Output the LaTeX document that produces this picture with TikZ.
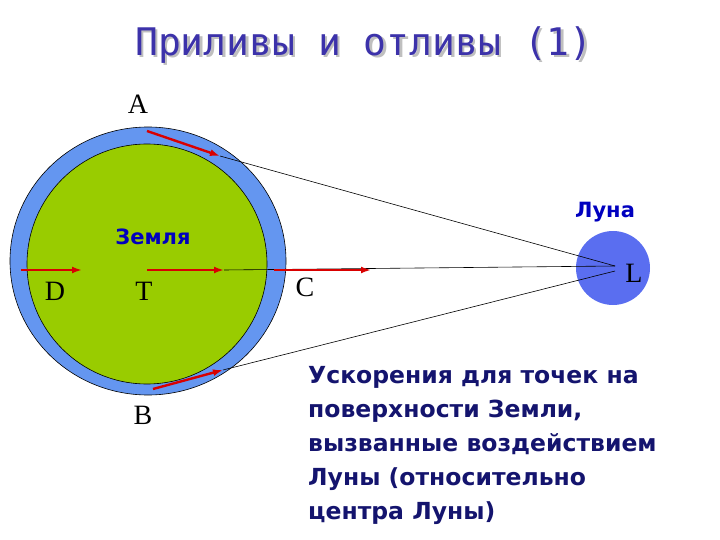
\documentclass[tikz,border=0pt]{standalone}
\usepackage{fontspec}
\setmainfont{Liberation Serif}
\newfontfamily\djsans{DejaVu Sans}
\newfontfamily\djmono{DejaVu Sans Mono}
\usetikzlibrary{arrows.meta}
\definecolor{ring}{RGB}{100,150,240}
\definecolor{earth}{RGB}{153,204,0}
\definecolor{moon}{RGB}{90,110,240}
\definecolor{navy}{RGB}{20,20,110}
\definecolor{ttl}{RGB}{60,50,170}
\begin{document}
\begin{tikzpicture}[x=1pt,y=-1pt,
  lbl/.style={font=\fontsize{28}{30}\selectfont},
  acc/.style={red!85!black,line width=2.4pt,-{Latex[length=10pt,width=7pt]}},
  thin/.style={black,line width=0.6pt}]
\useasboundingbox (0,0) rectangle (720,540);
\fill[ring,draw=black,line width=0.6pt] (148,261) ellipse [x radius=138,y radius=134];
\fill[earth,draw=black,line width=0.6pt] (147,264) circle (120);
\node[circle,fill=moon,minimum size=74pt,inner sep=0] (moon) at (613,268) {};
\coordinate (mt) at (615,266);
\coordinate (mb) at (615,271);
\coordinate (aS) at (147,131); \coordinate (aE) at (220,156);
\coordinate (bS) at (153,389); \coordinate (bE) at (223,370);
\coordinate (dS) at (21,270); \coordinate (dE) at (82,270);
\coordinate (tS) at (147,270); \coordinate (tE) at (224,270);
\coordinate (cS) at (274,270); \coordinate (cE) at (371,270);
\draw[thin] (aE) -- (mt);
\draw[thin] (bE) -- (mb);
\draw[thin] (tE) -- (mt);
\draw[acc] (aS) -- (aE);
\draw[acc] (bS) -- (bE);
\draw[acc] (dS) -- (dE);
\draw[acc] (tS) -- (tE);
\draw[acc] (cS) -- (cE);
\node[lbl] (A) at (138,104) {A};
\node[lbl] (B) at (143,415) {B};
\node[lbl] (D) at (55,291) {D};
\node[lbl] (T) at (144,291) {T};
\node[lbl] (C) at (305,287) {C};
\node[lbl] (L) at (634,273) {L};
\node[font=\djsans\bfseries\fontsize{21}{23}\selectfont,text=blue!75!black] (zem) at (153,237) {Земля};
\node[font=\djsans\bfseries\fontsize{21}{23}\selectfont,text=blue!75!black] (luna) at (605,212) {Луна};
\node[font=\djmono\fontsize{38}{40}\selectfont,text=ttl] (title) at (364,46)
 {\makebox[0pt][l]{\raisebox{-2.5pt}{\hspace{2.5pt}\textcolor{gray!50}{Приливы и отливы (1)}}}Приливы и отливы (1)};
\node[font=\djsans\bfseries\fontsize{23.5}{34}\selectfont,text=navy,align=left,anchor=north west,inner sep=0] (txt) at (308,366)
 {Ускорения для точек на\\поверхности Земли,\\вызванные воздействием\\Луны (относительно\\центра Луны)};
\end{tikzpicture}
\end{document}
